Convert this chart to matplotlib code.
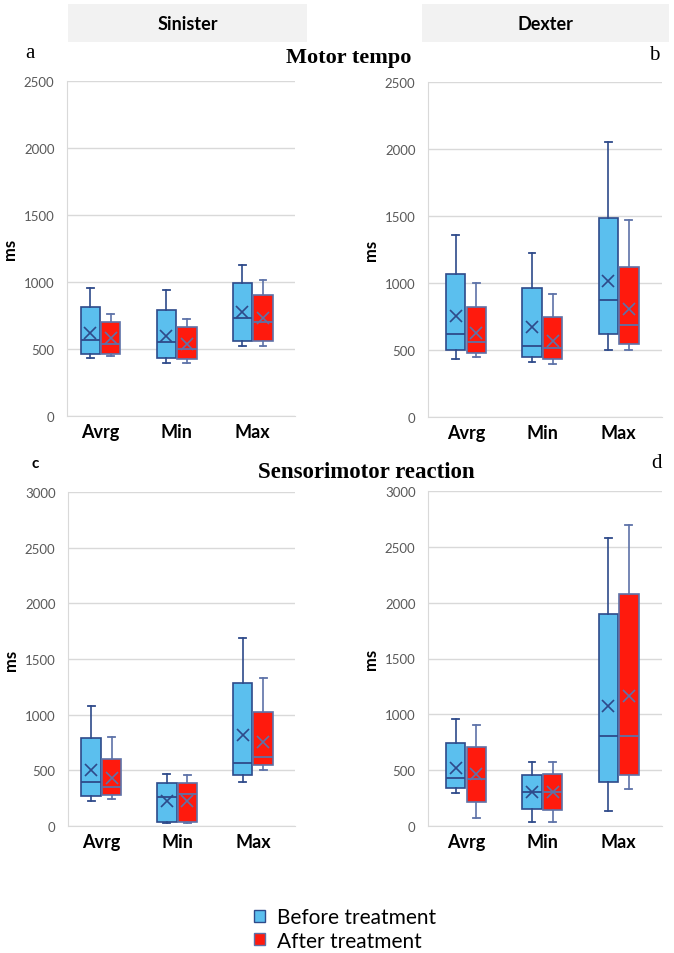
import matplotlib.pyplot as plt
from matplotlib.patches import Rectangle, Patch

# categories on the x axis
cats = ['Avrg', 'Min', 'Max']

# each row: [whisker low, Q1, median, Q3, whisker high, mean]  (ms)
# a - motor tempo, sinister
a_before = [[436, 464, 566, 810, 957, 623],
            [396, 436, 553, 790, 940, 600],
            [523, 561, 730, 995, 1129, 773]]
a_after = [[446, 464, 541, 700, 760, 580],
           [396, 429, 503, 665, 723, 541],
           [523, 561, 703, 905, 1014, 728]]
# b - motor tempo, dexter
b_before = [[435, 502, 617, 1070, 1358, 756],
            [408, 445, 532, 965, 1226, 669],
            [502, 617, 871, 1483, 2052, 1012]]
b_after = [[448, 475, 560, 818, 1002, 627],
           [398, 435, 512, 744, 918, 570],
           [502, 542, 684, 1117, 1473, 803]]
# c - sensorimotor reaction, sinister
c_before = [[225, 269, 398, 787, 1078, 503],
            [27, 39, 260, 383, 470, 225],
            [398, 458, 563, 1284, 1692, 814]]
c_after = [[240, 278, 350, 599, 802, 428],
           [27, 39, 284, 383, 458, 225],
           [500, 548, 617, 1027, 1332, 757]]
# d - sensorimotor reaction, dexter
d_before = [[299, 337, 433, 740, 961, 522],
            [36, 155, 307, 457, 573, 307],
            [134, 397, 806, 1896, 2576, 1075]]
d_after = [[75, 215, 418, 707, 904, 463],
           [36, 143, 307, 469, 573, 307],
           [328, 457, 806, 2075, 2693, 1164]]

blue = '#5BBFEE'
red = '#FF1A0D'
navy = '#2E4A8A'
slate = '#5D72A8'
grid_c = '#D9D9D9'

W, H = 674, 954
fig = plt.figure(figsize=(W / 100, H / 100), dpi=100)


def px_axes(left, top, right, bottom):
    return fig.add_axes([left / W, 1 - bottom / H, (right - left) / W, (bottom - top) / H])


def to_stats(rows):
    return [dict(whislo=r[0], q1=r[1], med=r[2], q3=r[3], whishi=r[4], mean=r[5])
            for r in rows]


def draw(ax, before, after, ymax, xlim, ylab_x):
    pos = list(range(len(cats)))
    for rows, off, fc, ec, lc in [(before, -0.135, blue, navy, navy),
                                  (after, 0.135, red, slate, slate)]:
        ax.bxp(to_stats(rows), positions=[p + off for p in pos], widths=0.255,
               capwidths=0.09, patch_artist=True, showmeans=True,
               showfliers=False, manage_ticks=False,
               boxprops=dict(facecolor=fc, edgecolor=ec, linewidth=1.2),
               medianprops=dict(color=lc, linewidth=1.3),
               whiskerprops=dict(color=lc, linewidth=1.2),
               capprops=dict(color=lc, linewidth=1.3),
               meanprops=dict(marker='x', markersize=8, markeredgecolor=lc,
                              markeredgewidth=1.2))
    ax.set_xlim(*xlim)
    ax.set_ylim(0, ymax)
    ax.set_yticks(range(0, ymax + 1, 500))
    ax.set_xticks(pos, cats)
    for lab in ax.get_xticklabels():
        lab.set_fontweight('bold')
        lab.set_fontsize(13)
        lab.set_family('Lato')
    for lab in ax.get_yticklabels():
        lab.set_family('Lato')
    ax.tick_params(axis='y', length=0, labelsize=9.5, labelcolor='#595959', pad=9)
    ax.tick_params(axis='x', length=0, pad=5)
    ax.yaxis.grid(True, color=grid_c, linewidth=1)
    ax.set_axisbelow(True)
    for s in ['top', 'right']:
        ax.spines[s].set_visible(False)
    for s in ['left', 'bottom']:
        ax.spines[s].set_color(grid_c)
    ax.set_ylabel('ms', fontsize=12, fontweight='bold', family='Lato')
    ax.yaxis.set_label_coords(ylab_x, 0.5)


ax_a = px_axes(67, 82, 295, 417)
draw(ax_a, a_before, a_after, 2500, (-0.44, 2.556), -0.215)
ax_b = px_axes(428, 83, 662, 418)
draw(ax_b, b_before, b_after, 2500, (-0.498, 2.57), -0.21)
ax_c = px_axes(68, 493, 295, 827)
draw(ax_c, c_before, c_after, 3000, (-0.44, 2.556), -0.215)
ax_d = px_axes(428, 492, 662, 827)
draw(ax_d, d_before, d_after, 3000, (-0.498, 2.57), -0.21)

# side headers
for x0, x1, label in [(68, 307, 'Sinister'), (422, 669, 'Dexter')]:
    fig.patches.append(Rectangle((x0 / W, 1 - 43 / H), (x1 - x0) / W, 38 / H,
                                 transform=fig.transFigure, facecolor='#F2F2F2',
                                 edgecolor='none'))
    fig.text((x0 + x1) / 2 / W, 1 - 25 / H, label, ha='center', va='center',
             fontsize=13, fontweight='bold', family='Lato')

fig.text(349 / W, 1 - 58 / H, 'Motor tempo', ha='center', va='center',
         fontsize=16, fontweight='bold', family='Liberation Serif')
fig.text(366 / W, 1 - 473 / H, 'Sensorimotor reaction', ha='center', va='center',
         fontsize=16.5, fontweight='bold', family='Liberation Serif')
fig.text(30 / W, 1 - 54 / H, 'a', ha='center', va='center', fontsize=15,
         family='Liberation Serif')
fig.text(654 / W, 1 - 56 / H, 'b', ha='center', va='center', fontsize=15,
         family='Liberation Serif')
fig.text(35 / W, 1 - 464 / H, 'c', ha='center', va='center', fontsize=11,
         fontweight='bold', family='Lato')
fig.text(657 / W, 1 - 463 / H, 'd', ha='center', va='center', fontsize=15,
         family='Liberation Serif')

handles = [Patch(facecolor=blue, edgecolor=navy, label='Before treatment'),
           Patch(facecolor=red, edgecolor=slate, label='After treatment')]
fig.legend(handles=handles, loc='upper left', bbox_to_anchor=(244 / W, 1 - 898 / H),
           frameon=False, prop=dict(family='Lato', size=15), handlelength=0.5,
           handleheight=0.5, handletextpad=0.6, labelspacing=0.15, borderpad=0)

fig.savefig('out.png', dpi=100)
